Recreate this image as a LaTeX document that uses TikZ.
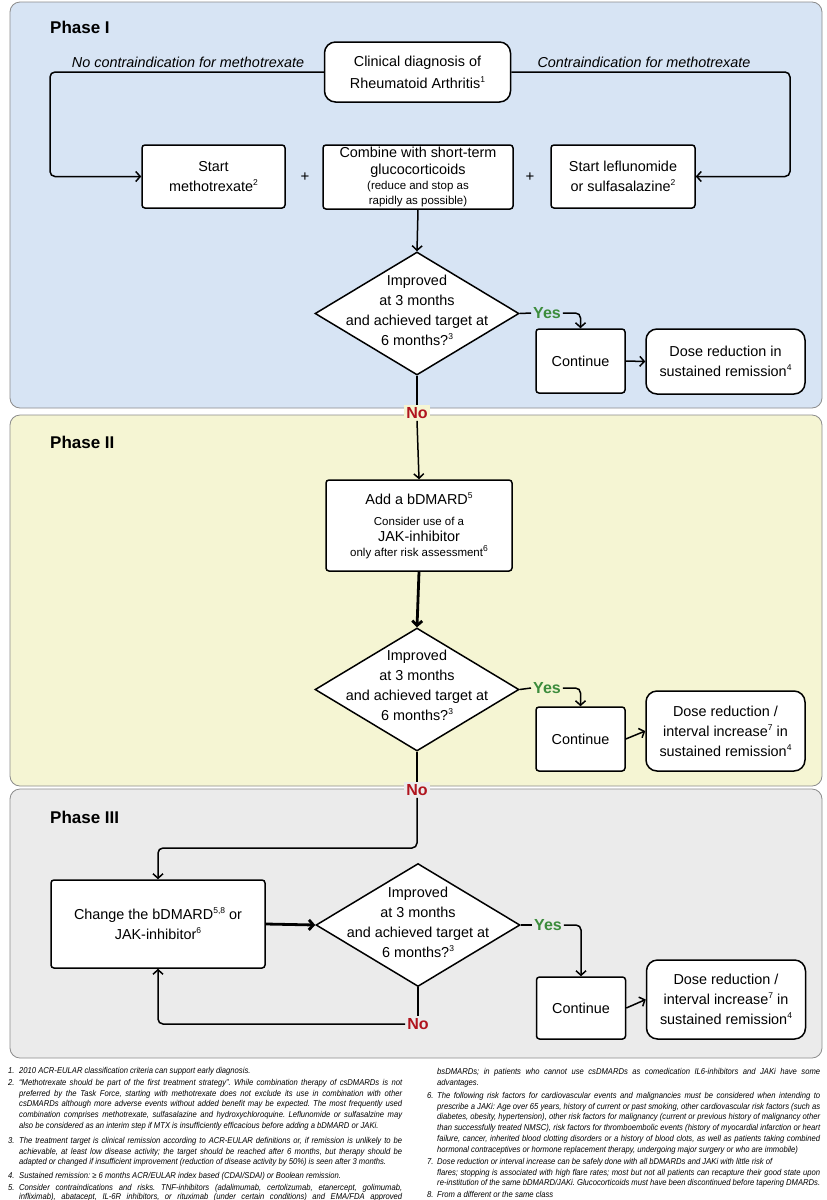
\documentclass[tikz,border=0pt]{standalone}
\usepackage{fontspec}
\setmainfont{Liberation Sans}
\newfontfamily\fnfont{Liberation Sans}[FakeStretch=0.9]
\usetikzlibrary{arrows.meta,shapes.geometric}
\definecolor{pone}{HTML}{D7E4F4}
\definecolor{ptwo}{HTML}{F5F5D3}
\definecolor{pthree}{HTML}{EBEBEB}
\definecolor{yesgreen}{HTML}{3C8C3C}
\definecolor{nored}{HTML}{B0141E}
\definecolor{panelborder}{HTML}{8C8C8C}
\newcommand\mainfs{\fontsize{14.4}{20}\selectfont}
\newcommand\smallfs{\fontsize{11.5}{15}\selectfont}
\newcommand\fnfs{\fnfont\itshape\fontsize{8.5}{10.8}\selectfont\frenchspacing}
\newcommand\sups[1]{\raisebox{0.42em}{\fontsize{8.5}{9}\selectfont #1}}
\newlength\fnw \setlength\fnw{383pt}
\newcommand\fj[1]{\makebox[\fnw][s]{#1}\\}
\newcommand\fjl[1]{\makebox[\fnw][s]{#1}}
\newcommand\fe[1]{\makebox[\fnw][l]{#1}}
\begin{document}
\begin{tikzpicture}[x=1pt,y=-1pt,
  ln/.style={line width=1.5pt, draw=black},
  arr/.style={ln, -{Straight Barb[length=4.5pt,width=10pt]}},
  thickarr/.style={arr, line width=2.8pt},
  box/.style={draw=black, line width=1.5pt, fill=white, rounded corners=3pt, align=center, inner sep=0pt, font=\mainfs},
  rbox/.style={box, rounded corners=11pt},
  dia/.style={diamond, draw=black, line width=1.5pt, fill=white, inner sep=0pt, minimum width=204pt, minimum height=123pt},
  dtext/.style={align=center, font=\mainfs, inner sep=0pt},
  phase/.style={anchor=west, font=\bfseries\fontsize{17}{20}\selectfont, inner sep=0pt},
  yeslab/.style={font=\bfseries\fontsize{16}{18}\selectfont, text=yesgreen, inner sep=2pt},
  nolab/.style={font=\bfseries\fontsize{16}{18}\selectfont, text=nored, inner sep=2pt},
  ital/.style={font=\itshape\mainfs, inner sep=0pt},
  panel/.style={draw=panelborder, line width=0.8pt, rounded corners=10pt},
  fn/.style={anchor=north west, align=left, inner sep=0pt, font=\fnfs},
  plus/.style={font=\fontsize{15}{18}\selectfont, inner sep=0pt}
]
\useasboundingbox (0,0) rectangle (827,1200);
\fill[white] (0,0) rectangle (827,1200);
% panels
\path[panel, fill=pone] (10,2) rectangle (822,408);
\path[panel, fill=ptwo] (10,415) rectangle (822,786);
\path[panel, fill=pthree] (10,789) rectangle (822,1058);
\node[phase] (ph1) at (50,27) {Phase I};
\node[phase] (ph2) at (50,442) {Phase II};
\node[phase] (ph3) at (50,817) {Phase III};

% Phase I
\node[rbox, minimum width=186pt, minimum height=60pt] (diag) at (417.5,72) {Clinical diagnosis of\\[2pt]Rheumatoid Arthritis\sups{1}};
\node[ital] (noci) at (188,62) {No contraindication for methotrexate};
\node[ital] (ci) at (644,62) {Contraindication for methotrexate};
\node[box, minimum width=143pt, minimum height=63pt] (start) at (213.5,176.5) {Start\\methotrexate\sups{2}};
\node[box, minimum width=190pt, minimum height=64pt] (comb) at (418,177) {Combine with short-term\\[-3pt]glucocorticoids\\[-5pt]{\smallfs (reduce and stop as}\\[-5pt]{\smallfs rapidly as possible)}};
\node[box, minimum width=144pt, minimum height=63pt] (lef) at (623,176.5) {Start leflunomide\\or sulfasalazine\sups{2}};
\node[plus] (plus1) at (305,177) {+};
\node[plus] (plus2) at (530,177) {+};
\coordinate (cl) at (50,72);
\coordinate (cr) at (790,72);
\draw[arr, rounded corners=5pt] (diag.west) -- (cl) |- (start.west);
\draw[arr, rounded corners=5pt] (diag.east) -- (cr) |- (lef.east);
\node[dia] (d1) at (417,313.5) {};
\node[dtext] (d1t) at (417,310) {Improved\\at 3 months\\and achieved target at\\6 months?\sups{3}};
\draw[arr] (comb.south) -- (d1.north);
\node[yeslab] (yes1) at (547,313) {Yes};
\node[box, minimum width=89pt, minimum height=64pt] (cont1) at (580.5,361) {Continue};
\node[rbox, minimum width=159pt, minimum height=65pt] (dose1) at (725.5,361.5) {Dose reduction in\\sustained remission\sups{4}};
\draw[ln] (d1.east) -- (yes1.west);
\draw[arr, rounded corners=5pt] (yes1.east) -| (cont1.north);
\draw[arr] (cont1.east) -- (dose1.west);
\node[nolab, fill=ptwo] (no1) at (417,413) {No};
\draw[ln] (d1.south) -- (no1.north);

% Phase II
\node[box, minimum width=186pt, minimum height=91pt] (add) at (419,525.5) {Add a bDMARD\sups{5}\\[1pt]{\smallfs Consider use of a}\\[-4pt]JAK-inhibitor\\[-5pt]{\smallfs only after risk assessment\sups{6}}};
\draw[arr] (no1.south) -- (add.north);
\node[dia] (d2) at (417,689.5) {};
\node[dtext] (d2t) at (417,685) {Improved\\at 3 months\\and achieved target at\\6 months?\sups{3}};
\draw[thickarr] (add.south) -- (d2.north);
\node[yeslab] (yes2) at (547,688) {Yes};
\node[box, minimum width=89pt, minimum height=64pt] (cont2) at (580.5,739) {Continue};
\node[rbox, minimum width=159pt, minimum height=80pt] (dose2) at (725.5,731) {Dose reduction /\\interval increase\sups{7} in\\sustained remission\sups{4}};
\draw[ln] (d2.east) -- (yes2.west);
\draw[arr, rounded corners=5pt] (yes2.east) -| (cont2.north);
\draw[arr] (cont2.east) -- (dose2.west);
\node[nolab, fill=pthree] (no2) at (417,790) {No};
\draw[ln] (d2.south) -- (no2.north);

% Phase III
\node[box, minimum width=214pt, minimum height=88pt] (chg) at (158,924) {Change the bDMARD\sups{5,8} or\\JAK-inhibitor\sups{6}};
\coordinate (turn2) at (417,848);
\draw[arr, rounded corners=5pt] (no2.south) -- (turn2) -| (chg.north);
\node[dia] (d3) at (418,925) {};
\node[dtext] (d3t) at (418,922) {Improved\\at 3 months\\and achieved target at\\6 months?\sups{3}};
\draw[thickarr] (chg.east) -- (d3.west);
\node[yeslab] (yes3) at (548,925) {Yes};
\node[box, minimum width=89pt, minimum height=62pt] (cont3) at (581,1008) {Continue};
\node[rbox, minimum width=159pt, minimum height=79pt] (dose3) at (726,999.5) {Dose reduction /\\interval increase\sups{7} in\\sustained remission\sups{4}};
\draw[ln] (d3.east) -- (yes3.west);
\draw[arr, rounded corners=5pt] (yes3.east) -| (cont3.north);
\draw[arr] (cont3.east) -- (dose3.west);
\node[nolab, fill=pthree] (no3) at (418,1024) {No};
\draw[ln] (d3.south) -- (no3.north);
\draw[arr, rounded corners=5pt] (no3.west) -| (chg.south);

% footnotes left
\node[fn] (fn1) at (8,1067) {\makebox[11pt][l]{1.}2010 ACR-EULAR classification criteria can support early diagnosis.};
\node[fn] (fn2) at (8,1079) {\makebox[11pt][l]{2.}\fj{“Methotrexate should be part of the first treatment strategy”. While combination therapy of csDMARDs is not}
\hspace*{11pt}\fj{preferred by the Task Force, starting with methotrexate does not exclude its use in combination with other}
\hspace*{11pt}\fj{csDMARDs although more adverse events without added benefit may be expected. The most frequently used}
\hspace*{11pt}\fj{combination comprises methotrexate, sulfasalazine and hydroxychloroquine. Leflunomide or sulfasalzine may}
\hspace*{11pt}\fe{also be considered as an interim step if MTX is insufficiently efficacious before adding a bDMARD or JAKi.}};
\node[fn] (fn3) at (8,1137) {\makebox[11pt][l]{3.}\fj{The treatment target is clinical remission according to ACR-EULAR definitions or, if remission is unlikely to be}
\hspace*{11pt}\fj{achievable, at least low disease activity; the target should be reached after 6 months, but therapy should be}
\hspace*{11pt}\fe{adapted or changed if insufficient improvement (reduction of disease activity by 50\%) is seen after 3 months.}};
\node[fn] (fn4) at (8,1172) {\makebox[11pt][l]{4.}Sustained remission: ≥ 6 months ACR/EULAR index based (CDAI/SDAI) or Boolean remission.};
\node[fn] (fn5) at (8,1184) {\makebox[11pt][l]{5.}\makebox[\fnw][s]{Consider contraindications and risks. TNF-inhibitors (adalimumab, certolizumab, etanercept, golimumab,}\\[-1.5pt]
\hspace*{11pt}\fjl{infliximab), abatacept, IL-6R inhibitors, or rituximab (under certain conditions) and EMA/FDA approved}};

% footnotes right
\node[fn] (fn5b) at (437,1068) {\fj{bsDMARDs; in patients who cannot use csDMARDs as comedication IL6-inhibitors and JAKi have some}\fe{advantages.}};
\node[fn] (fn6) at (427,1092) {\makebox[10pt][l]{6.}\fj{The following risk factors for cardiovascular events and malignancies must be considered when intending to}
\hspace*{10pt}\fj{prescribe a JAKi: Age over 65 years, history of current or past smoking, other cardiovascular risk factors (such as}
\hspace*{10pt}\fj{diabetes, obesity, hypertension), other risk factors for malignancy (current or previous history of malignancy other}
\hspace*{10pt}\fj{than successfully treated NMSC), risk factors for thromboembolic events (history of myocardial infarction or heart}
\hspace*{10pt}\fj{failure, cancer, inherited blood clotting disorders or a history of blood clots, as well as patients taking combined}
\hspace*{10pt}\fe{hormonal contraceptives or hormone replacement therapy, undergoing major surgery or who are immobile)}};
\node[fn] (fn7) at (427,1158) {\makebox[10pt][l]{7.}\fe{Dose reduction or interval increase can be safely done with all bDMARDs and JAKi with little risk of}\\
\hspace*{10pt}\fj{flares; stopping is associated with high flare rates; most but not all patients can recapture their good state upon}
\hspace*{10pt}\fjl{re-institution of the same bDMARD/JAKi. Glucocorticoids must have been discontinued before tapering DMARDs.}};
\node[fn] (fn8) at (427,1191) {\makebox[10pt][l]{8.}From a different or the same class};
\end{tikzpicture}
\end{document}
